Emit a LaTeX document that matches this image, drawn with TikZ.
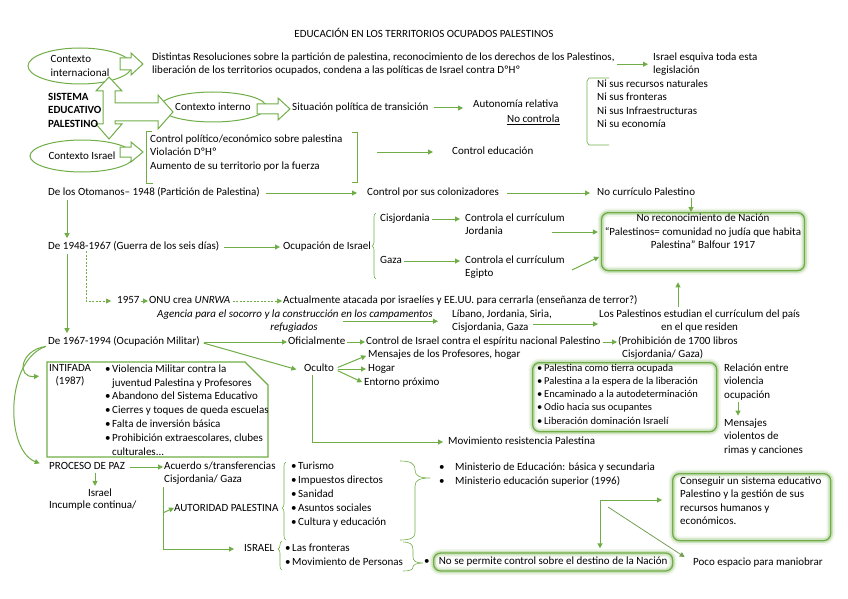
\documentclass[tikz,border=0pt]{standalone}
\usepackage{fontspec}
\setmainfont{Carlito}
\usetikzlibrary{shapes.geometric,arrows.meta,decorations.pathreplacing}

\definecolor{verde}{RGB}{112,173,71}
\newcommand{\bala}{\makebox[7pt][l]{\textbullet}}

\tikzset{
  txt/.style={inner sep=0pt, anchor=mid west, align=left, font=\fontsize{11}{13.5}\selectfont},
  linea/.style={draw=verde, line width=1pt},
  fina/.style={draw=verde, line width=0.6pt},
  flecha/.style={linea, -{Triangle[length=5pt,width=5pt]}},
  discont/.style={flecha, line width=0.7pt, dash pattern=on 2pt off 1.5pt},
  elipse/.style={ellipse, draw=verde, line width=1pt, inner sep=0pt, align=left, font=\fontsize{11}{13.5}\selectfont},
  bloque/.style={draw=verde, line width=1pt, fill=white},
  caja/.style={draw=verde, line width=1.3pt, rounded corners=7pt,
    preaction={draw=verde!12, line width=8pt},
    preaction={draw=verde!35, line width=4.5pt}}
}

\begin{document}
\begin{tikzpicture}[x=1pt, y=-1pt]
\useasboundingbox (0,0) rectangle (848,599);

% Titulo
\node[txt, anchor=center] (tit) at (424,33) {EDUCACIÓN EN LOS TERRITORIOS OCUPADOS PALESTINOS};

% Contextos
\node[elipse, minimum width=104pt, minimum height=36pt] (cint) at (80,66) {Contexto\\internacional};
\node[elipse, minimum width=100pt, minimum height=30pt] (cinterno) at (213,107) {Contexto interno};
\node[elipse, minimum width=104pt, minimum height=32pt] (cisr) at (82,156) {Contexto Israel};

% Flechas de bloque
\draw[bloque] (109,77) -- (122,91) -- (115,91) -- (115,103) -- (158,103) -- (158,95) -- (173,112)
  -- (158,129) -- (158,121) -- (115,121) -- (115,124) -- (122,124) -- (109,139) -- (96,124)
  -- (103,124) -- (103,91) -- (96,91) -- cycle;
\draw[bloque] (120,58) -- (131,58) -- (131,53) -- (143,64) -- (131,75) -- (131,70) -- (120,70) -- cycle;
\draw[bloque] (120,147) -- (131,147) -- (131,142) -- (143,152) -- (131,162) -- (131,157) -- (120,157) -- cycle;
\draw[bloque] (257,104) -- (278,104) -- (278,98) -- (290,109) -- (278,120) -- (278,114) -- (257,114) -- cycle;

\node[txt, font=\fontsize{11}{13.5}\selectfont\bfseries] (sis) at (48,125) {SISTEMA\\EDUCATIVO\\PALESTINO};

% Contexto internacional
\node[txt] (dist) at (152,71.5) {Distintas Resoluciones sobre la partición de palestina, reconocimiento de los derechos de los Palestinos,\\liberación de los territorios ocupados, condena a las políticas de Israel contra DºHº};
\node[txt] (esquiva) at (653,71.5) {Israel esquiva toda esta\\legislación};
\draw[flecha, shorten <=2pt, shorten >=5pt] (dist.east) -- (dist.east -| esquiva.west);

\node[txt] (nisus) at (597,125.5) {Ni sus recursos naturales\\Ni sus fronteras\\Ni sus Infraestructuras\\Ni su economía};
\draw[fina] (609,78) -- (589,78) -- (587,81) -- (587,142) -- (589,145) -- (609,145);

% Contexto interno
\node[txt] (sit) at (292,108) {Situación política de transición};
\node[txt] (auton) at (473,105) {Autonomía relativa};
\node[txt] (nocon) at (507,120) {\underline{No controla}};
\draw[flecha, shorten <=5pt, shorten >=10pt] (sit.mid east) -- (sit.mid east -| auton.west);

% Contexto Israel
\node[txt] (ctrl) at (150,167) {Control político/económico sobre palestina\\Violación DºHº\\Aumento de su territorio por la fuerza};
\draw[fina] (152,131) -- (146,131) -- (146,183) -- (153,183);
\draw[fina] (352,132) -- (357,132) -- (357,182) -- (352,182);
\coordinate (corch) at (357,152);
\node[txt] (ctrled) at (452,152) {Control educación};
\draw[flecha, shorten <=20pt, shorten >=19pt] (corch) -- (corch -| ctrled.west);

% Otomanos
\node[txt] (otom) at (48,193) {De los Otomanos– 1948 (Partición de Palestina)};
\node[txt] (colon) at (367,193) {Control por sus colonizadores};
\node[txt] (nocurr) at (597,193) {No currículo Palestino};
\draw[flecha, shorten <=6pt, shorten >=10pt] (otom.mid east) -- (colon.mid west);
\draw[flecha, shorten <=8pt, shorten >=7pt] (colon.mid east) -- (nocurr.mid west);

% No reconocimiento
\node[caja, minimum width=203pt, minimum height=58pt, anchor=north] (nrec) at (703,212) {};
\node[txt, anchor=north, align=center] (nrect) at (703,214) {No reconocimiento de Nación\\``Palestinos= comunidad no judía que habita\\Palestina'' Balfour 1917};
\draw[flecha, shorten <=2pt] ([xshift=94pt]nocurr.south west) -- ([xshift=94pt]nocurr.south west |- nrec.north);

% 1948-1967
\node[txt] (d1948) at (48,247) {De 1948-1967 (Guerra de los seis días)};
\node[txt] (ocup) at (283,247) {Ocupación de Israel};
\draw[flecha, shorten <=5pt, shorten >=3pt] (d1948.mid east) -- (ocup.mid west);
\draw[fina, decorate, decoration={brace, amplitude=4pt}] (376,279) -- (376,213);
\node[txt] (cisj) at (380,219) {Cisjordania};
\node[txt] (gaza) at (380,261) {Gaza};
\node[txt] (cjor) at (465,232.5) {Controla el currículum\\Jordania};
\node[txt] (cegi) at (465,274.5) {Controla el currículum\\Egipto};
\draw[flecha, shorten <=2pt, shorten >=5pt] (cisj.mid east) -- (cisj.mid east -| cjor.west);
\draw[flecha, shorten <=2pt, shorten >=5pt] (gaza.mid east) -- (gaza.mid east -| cegi.west);
\coordinate (jor) at (552,232);
\coordinate (egi) at (572,270);
\draw[flecha, shorten >=3pt] (jor) -- (jor -| nrec.west);
\draw[flecha, shorten >=2pt] (egi) -- (nrec.188);

% UNRWA
\node[txt] (n1957) at (117,301) {1957};
\node[txt] (onu) at (149,301) {ONU crea \textit{UNRWA}};
\node[txt] (actual) at (283,301) {Actualmente atacada por israelíes y EE.UU. para cerrarla (enseñanza de terror?)};
\draw[discont, shorten >=6pt] ([xshift=38pt]d1948.south west) |- (n1957.mid west);
\draw[flecha, shorten <=1pt, shorten >=1pt] (n1957.mid east) -- (onu.mid west);
\draw[discont, shorten <=2pt, shorten >=1pt] (onu.mid east) -- (actual.mid west);

\node[txt, font=\fontsize{11}{13.5}\selectfont\itshape] (agencia) at (157,315) {Agencia para el socorro y la construcción en los campamentos};
\node[txt, anchor=center, font=\fontsize{11}{13.5}\selectfont\itshape] (refug) at (294,328) {refugiados};
\node[txt] (libano) at (452,328.5) {Líbano, Jordania, Siria,\\Cisjordania, Gaza};
\node[txt, align=center] (estud) at (599,328.5) {Los Palestinos estudian el currículum del país\\en el que residen};
\draw[flecha, shorten <=25pt, shorten >=14pt] (refug.east |- libano.west) -- (libano.west);
\coordinate (lib) at (533,324);
\draw[flecha, shorten >=1pt] (lib) -- (lib -| estud.west);
\draw[flecha, shorten <=3pt, shorten >=11pt] ([xshift=79pt]estud.north west) -- ([xshift=79pt]estud.north west |- nrec.south);

% Ejes temporales
\draw[flecha, shorten <=3pt, shorten >=3pt] ([xshift=19pt]otom.south west) -- ([xshift=19pt]d1948.north west);

% 1967-1994
\node[txt] (d1967) at (48,342) {De 1967-1994 (Ocupación Militar)};
\draw[flecha, shorten <=3pt, shorten >=3pt] ([xshift=19pt]d1948.south west) -- ([xshift=19pt]d1967.north west);
\node[txt] (ofic) at (288,342) {Oficialmente};
\node[txt] (oculto) at (304,369) {Oculto};
\draw[flecha, shorten <=4pt, shorten >=1pt] (d1967.mid east) -- (ofic.mid west);
\draw[flecha, shorten <=4pt, shorten >=8pt] (d1967.mid east) -- (oculto.south west);
\node[txt] (contr) at (366,342) {Control de Israel contra el espíritu nacional Palestino};
\node[txt] (prohib) at (618,355.5) {(Prohibición de 1700 libros\\\hspace*{4pt}Cisjordania/ Gaza)};
\draw[flecha, shorten <=2pt, shorten >=1pt] (ofic.mid east) -- (contr.mid west);
\draw[flecha, shorten <=2pt, shorten >=1pt] (contr.mid east) -- (contr.mid east -| prohib.west);

\node[txt] (mens) at (368,355) {Mensajes de los Profesores, hogar};
\node[txt] (hogar) at (368,369) {Hogar};
\node[txt] (entorno) at (364,383) {Entorno próximo};
\draw[flecha, shorten <=4pt, shorten >=2pt] (oculto.mid east) -- (mens.mid west);
\draw[flecha, shorten <=4pt, shorten >=2pt] (oculto.mid east) -- (hogar.mid west);
\draw[flecha, shorten <=4pt, shorten >=2pt] (oculto.mid east) -- (entorno.mid west);

\node[txt] (movim) at (448,442) {Movimiento resistencia Palestina};
\draw[flecha, shorten <=3pt, shorten >=5pt] ([xshift=8pt]oculto.south west) |- (movim.mid west);

% Mensajes ocultos
\node[caja, minimum width=184pt, minimum height=69pt, anchor=north west] (balas) at (532,362) {};
\node[txt, font=\fontsize{10.5}{13.2}\selectfont] (balast) at (537,421.8) {\bala Palestina como tierra ocupada\\\bala Palestina a la espera de la liberación\\\bala Encaminado a la autodeterminación\\\bala Odio hacia sus ocupantes\\\bala Liberación dominación Israelí};
\node[txt] (relac) at (724,396) {Relación entre\\violencia\\ocupación};
\node[txt] (mviol) at (724,451) {Mensajes\\violentos de\\rimas y canciones};
\draw[flecha, shorten <=2pt, shorten >=3pt] ([xshift=14pt]relac.south west) -- ([xshift=14pt]mviol.north west);

% Intifada
\draw[linea, line width=1.2pt] (47,362) -- (245,362) -- (268,385) -- (268,457) -- (47,457) -- cycle;
\node[txt, align=center] (intif) at (49,382.5) {INTIFADA\\(1987)};
\node[txt, font=\fontsize{11}{13.8}\selectfont] (intiflist) at (105,452.8) {\bala Violencia Militar contra la\\\hspace*{7pt}juventud Palestina y Profesores\\\bala Abandono del Sistema Educativo\\\bala Cierres y toques de queda escuelas\\\bala Falta de inversión básica\\\bala Prohibición extraescolares, clubes\\\hspace*{7pt}culturales...};
\draw[flecha, shorten >=10pt] ([xshift=-2pt]d1967.south west) .. controls (20,350) and (16,378) .. (intif.west);

% Proceso de paz
\node[txt] (paz) at (49,467) {PROCESO DE PAZ};
\draw[flecha, shorten >=10pt] ([xshift=-2pt]d1967.south west) .. controls (5,360) and (5,450) .. (paz.mid west);
\node[txt] (acuerdo) at (164,480.5) {Acuerdo s/transferencias\\Cisjordania/ Gaza};
\draw[flecha, shorten <=5pt, shorten >=1pt] (paz.mid east) -- (paz.mid east -| acuerdo.west);
\node[txt, anchor=center] (israel1) at (100,493) {Israel};
\node[txt] (incumple) at (49,506) {Incumple continua/};
\draw[flecha, shorten <=3pt, shorten >=3pt] ([xshift=46pt]paz.south west) -- ([xshift=46pt]paz.south west |- israel1.north);

\node[txt] (autor) at (174,509) {AUTORIDAD PALESTINA};
\node[txt] (israel2) at (244,549) {ISRAEL};
\draw[flecha, shorten <=2pt, shorten >=10pt] ([xshift=-1pt]acuerdo.south west) |- (israel2.mid west);
\draw[flecha] ([xshift=-1pt, yshift=-5pt]autor.west -| acuerdo.south west) -- (autor.west);

\draw[fina, decorate, decoration={brace, amplitude=4pt, aspect=0.41}] (286,540) -- (286,462);
\node[txt, font=\fontsize{11}{14}\selectfont] (tur) at (291,523) {\bala Turismo\\\bala Impuestos directos\\\bala Sanidad\\\bala Asuntos sociales\\\bala Cultura y educación};
\draw[fina, decorate, decoration={brace, amplitude=4pt, aspect=0.72}] (282,570) -- (282,541);
\node[txt, font=\fontsize{11}{14}\selectfont] (fron) at (285,563) {\bala Las fronteras\\\bala Movimiento de Personas};

% Llaves derechas
\draw[fina] (400,461) .. controls (410,461) and (415,463) .. (415,470) .. controls (415,476) and (420,478) .. (430,478)
  .. controls (420,478) and (415,480) .. (415,486) -- (415,533) .. controls (415,538) and (410,540) .. (400,540);
\draw[fina] (403,542) .. controls (410,542) and (413,544) .. (413,550) -- (413,557) .. controls (413,561) and (416,563) .. (423,563)
  .. controls (416,563) and (413,565) .. (413,567) .. controls (413,570) and (409,571) .. (403,571);

\node[txt] (minist) at (439,482) {\makebox[16pt][l]{\textbullet}Ministerio de Educación: básica y secundaria\\\makebox[16pt][l]{\textbullet}Ministerio educación superior (1996)};

% Control del destino
\node[txt] (vineta) at (424,562) {\textbullet};
\node[caja, minimum width=239pt, minimum height=18pt, anchor=west, font=\fontsize{11}{13.5}\selectfont] (noper) at (433,562) {No se permite control sobre el destino de la Nación};
\node[caja, minimum width=158pt, minimum height=67pt, anchor=north west] (conseg) at (672,473) {};
\node[txt] (consegt) at (680,522.5) {Conseguir un sistema educativo\\Palestino y la gestión de sus\\recursos humanos y\\económicos.};
\node[txt] (poco) at (693,563) {Poco espacio para maniobrar};

\coordinate (codo) at (600,500);
\draw[flecha, shorten >=10pt] (codo) -- (codo -| conseg.west);
\draw[flecha, shorten >=4pt] (codo) -- (codo |- noper.north);
\coordinate (diag) at (608,507);
\draw[flecha, draw=verde!70!gray, line width=0.8pt, shorten >=10pt] (diag) -- (poco.west);

\end{tikzpicture}
\end{document}
